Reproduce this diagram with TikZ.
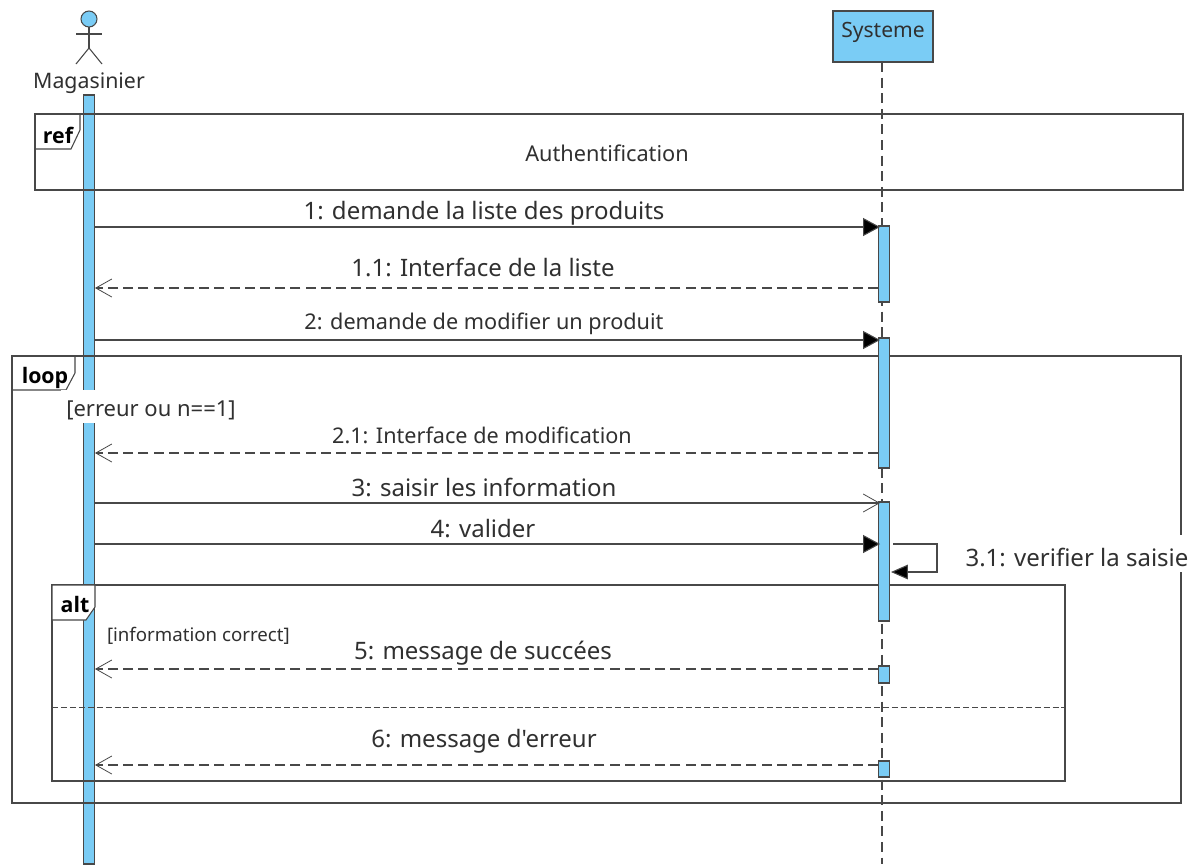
\documentclass[tikz,border=0pt]{standalone}
\usepackage{fontspec}
\setmainfont{Noto Sans}
\newfontfamily\tagfont{Open Sans}
\newfontfamily\plainfont{Noto Sans}
\usetikzlibrary{arrows.meta}
\definecolor{barblue}{HTML}{7ACCF5}
\definecolor{ink}{HTML}{484848}
\definecolor{txt}{HTML}{303030}
\newcommand{\fs}[1]{\fontsize{#1}{#1}\selectfont}
\tikzset{
  x=0.75pt,y=-0.75pt,
  every node/.style={inner sep=0pt,outer sep=0pt,text=txt},
  line/.style={draw=ink,line width=0.8pt},
  thinline/.style={draw=ink,line width=0.65pt},
  bar/.style={draw=ink,line width=0.8pt,fill=barblue,rectangle},
  sync/.style={line,-{Triangle[length=12.7pt,width=13.5pt,fill=black]}},
  selfsync/.style={line,-{Triangle[length=12.7pt,width=11pt,fill=black]}},
  asyncm/.style={line,-{Straight Barb[length=12pt,width=13.5pt,line width=0.6pt]}},
  reply/.style={line,dash pattern=on 7.5pt off 3.9pt,-{Straight Barb[length=12pt,width=13.5pt,line width=0.6pt,sep=0pt]}},
  msgbig/.style={font=\fs{18}},
  msgmid/.style={font=\fs{16.25}},
  msgsmall/.style={font=\fs{16.2}},
  small/.style={font=\fs{14}},
  tagname/.style={font=\tagfont\fs{16}\bfseries,text=black},
  frametag/.style={line,fill=white},
}
\begin{document}
\begin{tikzpicture}
\useasboundingbox (0,0) rectangle (1201,864);
\fill[white] (0,0) rectangle (1201,864);

% lifelines and bar of the actor
\coordinate (sysBottom) at (882,864);
\node[bar,draw=ink,minimum width=100*0.75pt,minimum height=51*0.75pt,anchor=north west] (sys) at (833,11) {};
\draw[line,dash pattern=on 7.5pt off 4.2pt] (sys.south -| sysBottom) -- (sysBottom);
\node[font=\fs{15.8}] (sysLabel) at (883,32) {Systeme};

% actor
\node[circle,draw=ink,line width=0.8pt,fill=barblue,minimum size=16*0.75pt] (head) at (89,19) {};
\coordinate (hip) at (89,48);
\coordinate (armL) at (76,34);
\coordinate (armR) at (102,34);
\coordinate (footL) at (76,64);
\coordinate (footR) at (102,64);
\draw[line] (head.south) -- (hip);
\draw[line] (armL) -- (armR);
\draw[line] (footL) -- (hip) -- (footR);
\node[font=\fs{16}] (actorLabel) at (89,83) {Magasinier};
\node[bar,minimum width=10.5*0.75pt,minimum height=769*0.75pt,anchor=north] (actBar) at (89,95) {};

% frames
\node[draw=ink,line width=0.8pt,minimum width=1148*0.75pt,minimum height=76*0.75pt,anchor=north west] (refFrame) at (35,114) {};
\node[font=\fs{16.3}] (refText) at (607,153) {Authentification};
\coordinate (refA) at (80,114); \coordinate (refB) at (80,130); \coordinate (refC) at (71,149); \coordinate (refD) at (35,149);
\draw[line] (refA) -- (refB) -- (refC) -- (refD);
\node[tagname] (refTag) at (58,135) {ref};

\node[draw=ink,line width=0.8pt,minimum width=1169*0.75pt,minimum height=447*0.75pt,anchor=north west] (loopFrame) at (12,356) {};
\coordinate (loopA) at (75,356); \coordinate (loopB) at (75,373); \coordinate (loopC) at (66,390); \coordinate (loopD) at (12,390);
\draw[line] (loopA) -- (loopB) -- (loopC) -- (loopD);
\node[tagname] (loopTag) at (45,378) {loop};
\node[fill=white,minimum width=178*0.75pt,minimum height=33*0.75pt] (loopGuard) at (150,406.5) {};
\node[font=\fs{16.5}] (loopGuardText) at (151,410) {[erreur ou n==1]};

\node[draw=ink,line width=0.8pt,minimum width=1013*0.75pt,minimum height=196*0.75pt,anchor=north west] (altFrame) at (52,585) {};
\coordinate (altA) at (95,585); \coordinate (altB) at (95,607); \coordinate (altC) at (86,620); \coordinate (altD) at (52,620);
\draw[frametag] (altFrame.north west) -- (altA) -- (altB) -- (altC) -- (altD) -- cycle;
\node[tagname] (altTag) at (75,604) {alt};
\node[small,anchor=west] (altGuard) at (107,636) {[information correct]};
\coordinate (sepL) at (52,707); \coordinate (sepR) at (1065,707);
\draw[thinline,dash pattern=on 4.5pt off 2.2pt] (sepL) -- (sepR);

% activation bars of the system
\tikzset{sysbar/.style={bar,minimum width=11*0.75pt,anchor=north}}
\node[sysbar,minimum height=76*0.75pt] (b1) at (884,226) {};
\node[sysbar,minimum height=130*0.75pt] (b2) at (884,338) {};
\node[sysbar,minimum height=119*0.75pt] (b3) at (884,502) {};
\node[sysbar,minimum height=17*0.75pt] (b4) at (884,666) {};
\node[sysbar,minimum height=16*0.75pt] (b5) at (884,761) {};

% messages
\coordinate (m1) at (94.5,227); \coordinate (m1e) at (880,227);
\draw[sync] (m1) -- (m1e);
\node[msgbig] (t1) at (484,213) {1: demande la liste des produits};

\coordinate (m11) at (878,288); \coordinate (m11e) at (95,288);
\draw[reply] (m11) -- (m11e);
\node[msgbig] (t11) at (483,267) {1.1: Interface de la liste};

\coordinate (m2) at (94.5,340); \coordinate (m2e) at (880,340);
\draw[sync] (m2) -- (m2e);
\node[msgmid] (t2) at (484,324) {2: demande de modifier un produit};

\coordinate (m21) at (878,453); \coordinate (m21e) at (95,453);
\draw[reply] (m21) -- (m21e);
\node[msgsmall] (t21) at (482,435) {2.1: Interface de modification};

\coordinate (m3) at (94.5,503); \coordinate (m3e) at (880,503);
\draw[asyncm] (m3) -- (m3e);
\node[msgbig] (t3) at (484,487) {3: saisir les information};

\coordinate (m4) at (94.5,544); \coordinate (m4e) at (880,544);
\draw[sync] (m4) -- (m4e);
\node[msgbig] (t4) at (483,529) {4: valider};

\coordinate (s0) at (893,544); \coordinate (s1) at (937,544); \coordinate (s2) at (937,572); \coordinate (s3) at (891,572);
\draw[selfsync] (s0) -- (s1) -- (s2) -- (s3);
\node[fill=white,minimum width=225*0.75pt,minimum height=37*0.75pt] (t31mask) at (1077,553.5) {};
\node[msgbig] (t31) at (1077,557) {3.1: verifier la saisie};

\coordinate (m5) at (878,669); \coordinate (m5e) at (95,669);
\draw[reply] (m5) -- (m5e);
\node[msgbig] (t5) at (483,653.5) {5: message de succées};

\coordinate (m6) at (878,765); \coordinate (m6e) at (95,765);
\draw[reply] (m6) -- (m6e);
\node[font=\plainfont\fs{18}] (t6) at (484,741.5) {6: message d'erreur};
\end{tikzpicture}
\end{document}
